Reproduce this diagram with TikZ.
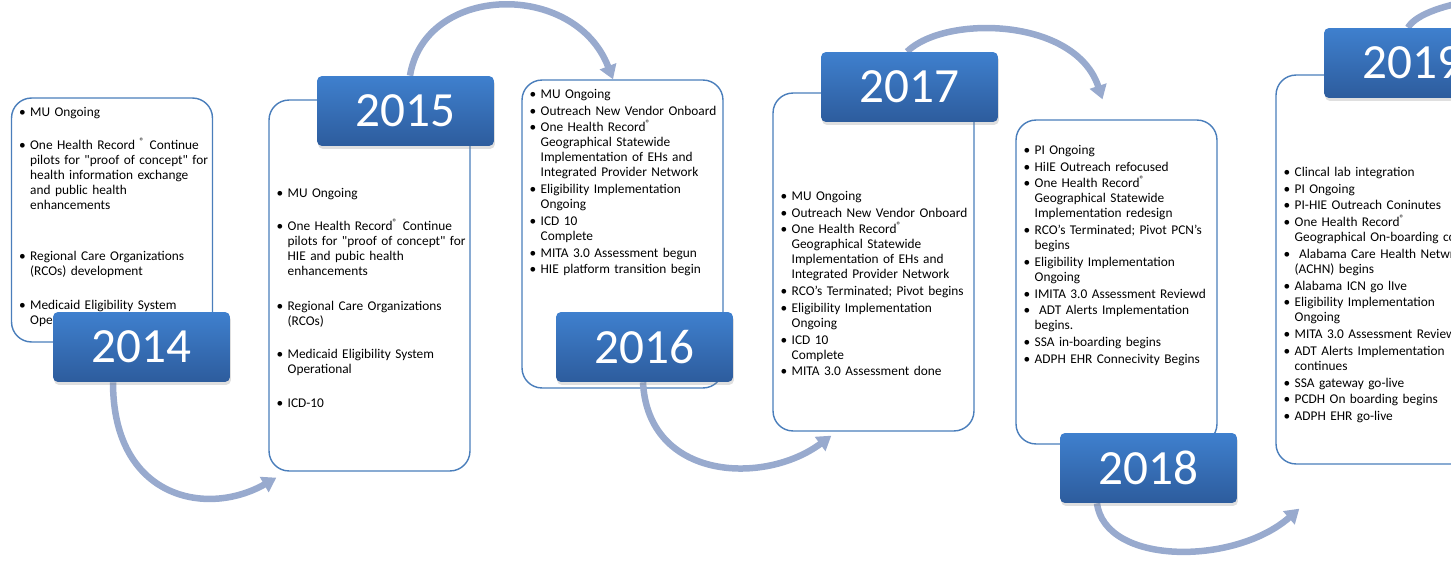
\documentclass[tikz,border=0pt]{standalone}
\usepackage{fontspec}
\setmainfont{Carlito}
\usetikzlibrary{arrows.meta,shadows}
\pgfdeclarelayer{front}
\pgfsetlayers{main,front}
\definecolor{panelblue}{HTML}{4A7EBB}
\definecolor{yeartop}{HTML}{3F80CE}
\definecolor{yearbot}{HTML}{2D5C9D}
\definecolor{linkblue}{HTML}{98AACE}
\newcommand{\itm}[2][1pt]{\hangindent=0.22cm\hangafter=1\noindent\makebox[0.22cm][l]{\textbullet}#2\par\vspace{#1}}
\newcommand{\rg}{\textsuperscript{®}}

\begin{document}
\begin{tikzpicture}[x=0.02cm,y=-0.02cm,
    panel/.style={draw=panelblue,line width=0.8pt,fill=white,rounded corners=0.4cm,minimum width=4.02cm},
    year/.style={rounded corners=0.1cm,top color=yeartop,bottom color=yearbot,text=white,
      minimum width=3.54cm,minimum height=1.4cm,font=\fontsize{28}{30}\selectfont,
      drop shadow={opacity=0.25,shadow xshift=0.02cm,shadow yshift=-0.06cm}},
    list/.style={anchor=base west,inner sep=0pt,text width=5cm,align=left,font=\fontsize{7.6}{8.54}\selectfont},
    link/.style={draw=linkblue,line width=0.13cm,-{Triangle[width=0.34cm,length=0.28cm]}}]
    \useasboundingbox (0,0) rectangle (1451,561);
    \clip (0,0) rectangle (1451,561);
    \node[panel,minimum height=4.88cm] (b14) at (112,220) {};
    \node[panel,minimum height=7.42cm] (b15) at (369.5,285.5) {};
    \node[panel,minimum height=6.16cm] (b16) at (622.5,234) {};
    \node[panel,minimum height=6.76cm] (b17) at (873.5,262) {};
    \node[panel,minimum height=6.48cm] (b18) at (1116.5,282) {};
    \node[panel,minimum height=7.78cm] (b19) at (1376.5,269.5) {};
    \node[list] (l14) at ([shift={(8,19)}]b14.north west) {%
      \itm[10.2pt]{MU Ongoing}
      \itm[20.5pt]{One Health Record \rg\ Continue\newline pilots for \textquotedbl proof of concept\textquotedbl\ for\newline health information exchange\newline and public health\newline enhancements}
      \itm[10.8pt]{Regional Care Organizations\newline (RCOs) development}
      \itm{Medicaid Eligibility System\newline Operational}};
    \node[list] (l15) at ([shift={(8,98)}]b15.north west) {%
      \itm[10.2pt]{MU Ongoing}
      \itm[11.4pt]{One Health Record\rg\ Continue\newline pilots for \textquotedbl proof of concept\textquotedbl\ for\newline HIE and pubic health\newline enhancements}
      \itm[10.2pt]{Regional Care Organizations\newline (RCOs)}
      \itm[10.8pt]{Medicaid Eligibility System\newline Operational}
      \itm{ICD-10}};
    \node[list] (l16) at ([shift={(8,19)}]b16.north west) {%
      \itm{MU Ongoing}
      \itm{Outreach New Vendor Onboard}
      \itm{One Health Record\rg\newline Geographical Statewide\newline Implementation of EHs and\newline Integrated Provider Network}
      \itm{Eligibility Implementation\newline Ongoing}
      \itm{ICD 10\newline Complete}
      \itm{MITA 3.0 Assessment begun}
      \itm{HIE platform transition begin}};
    \node[list] (l17) at ([shift={(8,108)}]b17.north west) {%
      \itm{MU Ongoing}
      \itm{Outreach New Vendor Onboard}
      \itm{One Health Record\rg\newline Geographical Statewide\newline Implementation of EHs and\newline Integrated Provider Network}
      \itm{RCO's Terminated; Pivot begins}
      \itm{Eligibility Implementation\newline Ongoing}
      \itm{ICD 10\newline Complete}
      \itm{MITA 3.0 Assessment done}};
    \node[list] (l18) at ([shift={(8,35)}]b18.north west) {%
      \itm{PI Ongoing}
      \itm{HiIE Outreach refocused}
      \itm{One Health Record\rg\newline Geographical Statewide\newline Implementation redesign}
      \itm{RCO's Terminated; Pivot PCN's\newline begins}
      \itm{Eligibility Implementation\newline Ongoing}
      \itm{IMITA 3.0 Assessment Reviewd}
      \itm{\ ADT Alerts Implementation\newline begins.}
      \itm{SSA in-boarding begins}
      \itm{ADPH EHR Connecivity Begins}};
    \node[list] (l19) at ([shift={(8,102)}]b19.north west) {%
      \itm{Clincal lab integration}
      \itm{PI Ongoing}
      \itm{PI-HIE Outreach Coninutes}
      \itm{One Health Record\rg\newline Geographical On-boarding continues}
      \itm{\ Alabama Care Health Netwrok\newline (ACHN) begins}
      \itm{Alabama ICN go lIve}
      \itm{Eligibility Implementation\newline Ongoing}
      \itm{MITA 3.0 Assessment Reviewed}
      \itm{ADT Alerts Implementation\newline continues}
      \itm{SSA gateway go-live}
      \itm{PCDH On boarding begins}
      \itm{ADPH EHR go-live}};
    \begin{pgfonlayer}{front}
    \node[year] (y14) at (141.5,347) {2014};
    \node[year] (y15) at (405.5,111) {2015};
    \node[year] (y16) at (644.5,347) {2016};
    \node[year] (y17) at (909.5,87) {2017};
    \node[year] (y18) at (1148.5,468) {2018};
    \node[year] (y19) at (1412.5,63) {2019};
    \end{pgfonlayer}
    \coordinate (out19) at (1478,0);
    \draw[link] ([xshift=-0.57cm]y14.south) .. controls +(0,116) and +(-70,40) .. ([shift={(8,6)}]b15.south west);
    \draw[link] ([xshift=0.09cm]y15.north) .. controls +(15,-92) and +(-38,-99) .. ([xshift=-0.19cm]b16.north);
    \draw[link] ([xshift=-0.03cm]y16.south) .. controls +(5,98) and +(-67,50) .. ([shift={(59,4)}]b17.south west);
    \draw[link] ([xshift=-0.05cm]y17.north) .. controls +(38,-37) and +(-27,-82) .. ([shift={(-14,-20)}]b18.north);
    \draw[link] ([xshift=-1.03cm]y18.south) .. controls +(8,62) and +(-65,57) .. ([shift={(24,44)}]b19.south west);
    \draw[draw=linkblue,line width=0.13cm] ([xshift=-0.09cm]y19.north) .. controls +(8,-14) and +(-30,4) .. (out19);
\end{tikzpicture}
\end{document}
